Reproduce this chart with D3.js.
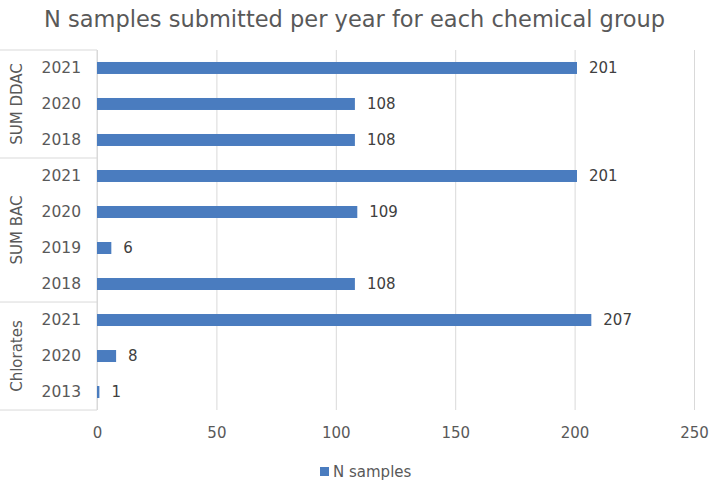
<!DOCTYPE html>
<html>
<head>
<meta charset="utf-8">
<script src="https://cdn.jsdelivr.net/npm/d3@7"></script>
<style>
  body { margin: 0; background: #fff; }
  svg { font-family: "DejaVu Sans", Verdana, sans-serif; }
</style>
</head>
<body>
<div id="chart"></div>
<script>
var W = 709, H = 484;

// data, top to bottom as in the chart
var groups = ["SUM DDAC", "SUM BAC", "Chlorates"];
var groupOf = ["SUM DDAC", "SUM DDAC", "SUM DDAC", "SUM BAC", "SUM BAC", "SUM BAC", "SUM BAC", "Chlorates", "Chlorates", "Chlorates"];
var years = ["2021", "2020", "2018", "2021", "2020", "2019", "2018", "2021", "2020", "2013"];
var nSamples = [201, 108, 108, 201, 109, 6, 108, 207, 8, 1];
var xTicks = [0, 50, 100, 150, 200, 250];

var rows = years.map(function(y, i) { return { key: "r" + i, year: y, group: groupOf[i], value: nSamples[i] }; });

var plotL = 97, plotR = 694, plotT = 50, plotB = 410;
var barCol = "#4a7cbf";

var svg = d3.select("#chart").append("svg")
    .attr("width", W)
    .attr("height", H);

var x = d3.scaleLinear().domain([0, 250]).range([plotL, plotR]);
var y = d3.scaleBand().domain(rows.map(function(d) { return d.key; }))
    .range([plotT, plotB]).paddingInner(0.667).paddingOuter(0.333);
var step = y.step();

// title
svg.append("text")
    .attr("x", W / 2).attr("y", 27)
    .attr("text-anchor", "middle")
    .attr("font-size", 22.5)
    .attr("fill", "#595959")
    .text("N samples submitted per year for each chemical group");

// gridlines + x labels
var xAxis = svg.append("g")
    .attr("transform", "translate(0," + plotB + ")")
    .call(d3.axisBottom(x).tickValues(xTicks).tickSize(-(plotB - plotT)).tickPadding(17));
xAxis.attr("font-size", 15).attr("font-family", null);
xAxis.select(".domain").remove();
xAxis.selectAll(".tick line").attr("stroke", "#d9d9d9");
xAxis.selectAll(".tick text").attr("fill", "#595959").style("font-size", "15px");

// category box lines
var lineCol = "#d9d9d9";
svg.append("line").attr("x1", plotL).attr("x2", plotL).attr("y1", plotT).attr("y2", plotB).attr("stroke", lineCol);
var groupStart = [0, 3, 7, 10];
groupStart.forEach(function(s) {
    var yy = plotT + s * step;
    svg.append("line").attr("x1", 0).attr("x2", plotL).attr("y1", yy).attr("y2", yy).attr("stroke", lineCol);
});

// bars
svg.selectAll("rect.bar")
    .data(rows)
    .enter().append("rect")
    .attr("class", "bar")
    .attr("x", x(0))
    .attr("y", function(d) { return y(d.key); })
    .attr("width", function(d) { return x(d.value) - x(0); })
    .attr("height", y.bandwidth())
    .attr("fill", barCol);

// value labels
svg.selectAll("text.val")
    .data(rows)
    .enter().append("text")
    .attr("class", "val")
    .attr("x", function(d) { return x(d.value) + 12; })
    .attr("y", function(d) { return y(d.key) + y.bandwidth() / 2; })
    .attr("dy", "0.35em")
    .attr("font-size", 15)
    .attr("fill", "#404040")
    .text(function(d) { return d.value; });

// year labels
svg.selectAll("text.yr")
    .data(rows)
    .enter().append("text")
    .attr("class", "yr")
    .attr("x", 81)
    .attr("y", function(d) { return y(d.key) + y.bandwidth() / 2; })
    .attr("dy", "0.35em")
    .attr("text-anchor", "end")
    .attr("font-size", 15.5)
    .attr("fill", "#595959")
    .text(function(d) { return d.year; });

// group labels
groups.forEach(function(g, i) {
    var cy = plotT + (groupStart[i] + groupStart[i + 1]) / 2 * step;
    svg.append("text")
        .attr("transform", "translate(17," + cy + ") rotate(-90)")
        .attr("text-anchor", "middle")
        .attr("dy", "0.35em")
        .attr("font-size", 15)
        .attr("fill", "#595959")
        .text(g);
});

// legend
svg.append("rect").attr("x", 320).attr("y", 467).attr("width", 9).attr("height", 9).attr("fill", barCol);
svg.append("text").attr("x", 333).attr("y", 472).attr("dy", "0.35em")
    .attr("font-size", 15).attr("fill", "#595959").text("N samples");
</script>
</body>
</html>
